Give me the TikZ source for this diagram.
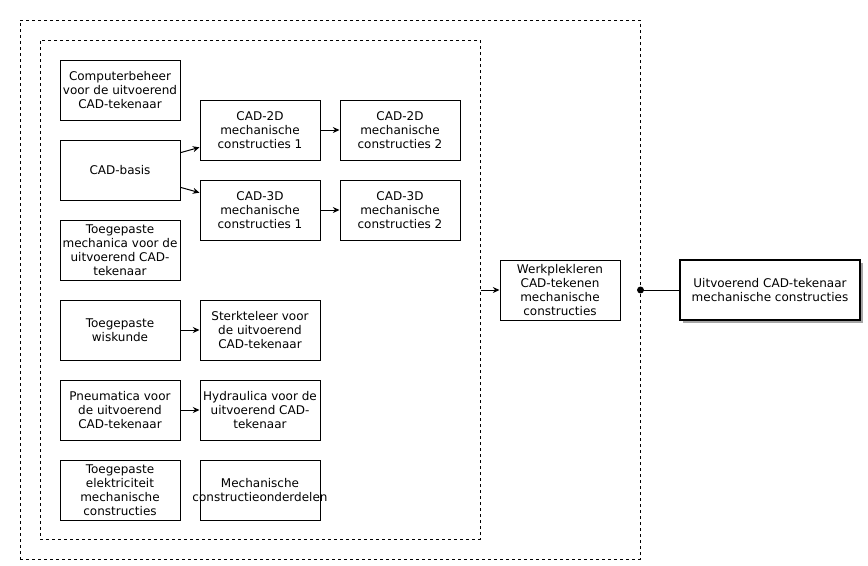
\documentclass[tikz,border=0pt]{standalone}
\usepackage{fontspec}
\setmainfont{DejaVu Sans}
\usetikzlibrary{arrows.meta, shadows}

\begin{document}
\begin{tikzpicture}[x=0.75pt, y=-0.75pt, line width=0.75pt, >={Stealth[length=5pt, width=4.5pt]},
  box/.style={draw, fill=white, minimum width=90pt, minimum height=45pt, align=center, inner sep=1pt,
    font=\fontsize{9}{10.5}\selectfont},
  frame/.style={draw, dash pattern=on 2.25pt off 2.25pt, inner sep=0pt}]
\useasboundingbox (0,0) rectangle (868,565);

% Frames
\node[frame, minimum width=465pt, minimum height=404.25pt] (outer) at (330,289.5) {};
\node[frame, minimum width=330pt, minimum height=374.25pt] (inner) at (260,289.5) {};

% First column
\node[box] (beheer) at (120,90) {Computerbeheer\\voor de uitvoerend\\CAD-tekenaar};
\node[box] (basis) at (120,170) {CAD-basis};
\node[box] (mechanica) at (120,250) {Toegepaste\\mechanica voor de\\uitvoerend CAD-\\tekenaar};
\node[box] (wiskunde) at (120,330) {Toegepaste\\wiskunde};
\node[box] (pneumatica) at (120,410) {Pneumatica voor\\de uitvoerend\\CAD-tekenaar};
\node[box] (elektriciteit) at (120,490) {Toegepaste\\elektriciteit\\mechanische\\constructies};

% Second column
\node[box] (cad2d1) at (260,130) {CAD-2D\\mechanische\\constructies 1};
\node[box] (cad3d1) at (260,210) {CAD-3D\\mechanische\\constructies 1};
\node[box] (sterkteleer) at (260,330) {Sterkteleer voor\\de uitvoerend\\CAD-tekenaar};
\node[box] (hydraulica) at (260,410) {Hydraulica voor de\\uitvoerend CAD-\\tekenaar};
\node[box, text width=88pt] (onderdelen) at (260,490) {Mechanische\\\hbox to 88pt{\hss constructieonderdelen\hss}};

% Third column
\node[box] (cad2d2) at (400,130) {CAD-2D\\mechanische\\constructies 2};
\node[box] (cad3d2) at (400,210) {CAD-3D\\mechanische\\constructies 2};

% Outside the frames
\node[box] (werk) at (560,290) {Werkplekleren\\CAD-tekenen\\mechanische\\constructies};
\node[box, minimum width=135pt, line width=1.5pt,
  drop shadow={shadow xshift=2.25pt, shadow yshift=-2.25pt, fill=gray!70, opacity=1}]
  (eind) at (770,290) {Uitvoerend CAD-tekenaar\\mechanische constructies};

% Connections
\draw[->] (basis.16) -- (cad2d1.196);
\draw[->] (basis.-16) -- (cad3d1.164);
\draw[->] (cad2d1) -- (cad2d2);
\draw[->] (cad3d1) -- (cad3d2);
\draw[->] (wiskunde) -- (sterkteleer);
\draw[->] (pneumatica) -- (hydraulica);
\draw[->] (werk.west -| inner.east) -- (werk.west);
\draw (eind.west -| outer.east) -- (eind.west);
\fill (eind.west -| outer.east) circle (2.6pt);
\end{tikzpicture}
\end{document}
